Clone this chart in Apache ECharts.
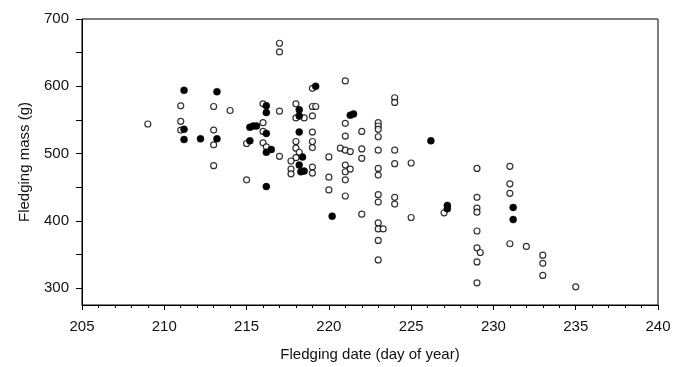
<!DOCTYPE html>
<html>
<head>
<meta charset="utf-8">
<script src="https://cdn.jsdelivr.net/npm/echarts@6/dist/echarts.min.js"></script>
<style>
  html, body { margin: 0; padding: 0; background: #fff; }
  #chart { width: 679px; height: 367px; }
</style>
</head>
<body>
<div id="chart"></div>
<script>
// [day of year, mass g] - open circles
const openBirds = [
  [211.0, 571], [213.0, 570], [214.0, 564], [209.0, 544], [211.0, 548], [211.0, 535], [213.0, 535], [213.0, 513], [213.0, 482],
  [217.0, 664], [217.0, 651], [221.0, 608], [219.0, 597], [216.0, 574], [218.0, 574], [219.0, 570], [219.2, 570], [217.0, 563],
  [218.0, 553], [218.5, 553], [219.0, 556], [216.0, 546], [216.0, 533], [219.0, 532], [221.0, 545], [221.0, 526],
  [215.0, 515], [216.0, 516], [216.2, 510], [218.0, 518], [218.0, 508], [219.0, 518], [219.0, 509], [217.0, 496], [218.2, 502],
  [218.0, 494], [217.7, 489], [217.7, 477], [217.7, 470], [219.0, 480], [219.0, 471], [220.0, 495], [220.7, 508], [221.0, 505],
  [221.0, 483], [221.0, 473], [215.0, 461], [220.0, 465], [220.0, 446], [221.0, 461], [221.0, 437],
  [224.0, 583], [224.0, 576], [223.0, 546], [223.0, 541], [223.0, 536], [223.0, 525], [222.0, 533], [221.3, 503], [222.0, 507],
  [223.0, 505], [224.0, 505], [222.0, 493], [225.0, 486], [224.0, 485], [221.3, 477], [223.0, 478], [223.0, 468],
  [222.0, 410], [223.0, 439], [223.0, 428], [224.0, 435], [224.0, 425], [225.0, 405], [223.0, 397], [223.0, 388], [223.3, 388],
  [223.0, 371], [223.0, 342], [227.0, 412],
  [229.0, 478], [231.0, 481], [231.0, 455], [231.0, 441], [229.0, 435], [229.0, 419], [229.0, 413], [229.0, 385], [229.0, 360],
  [229.2, 353], [229.0, 339], [231.0, 366], [232.0, 362], [233.0, 349], [233.0, 337], [233.0, 319], [229.0, 308], [235.0, 302]
];

// [day of year, mass g] - filled circles
const filledBirds = [
  [211.2, 594], [213.2, 592], [211.2, 536], [211.2, 521], [212.2, 522], [213.2, 522], [219.2, 600], [216.2, 571], [218.2, 565],
  [216.2, 561], [218.2, 556], [221.3, 557], [221.5, 559], [215.2, 539], [215.4, 541], [215.6, 541], [216.2, 530], [218.2, 532],
  [215.2, 519], [216.2, 502], [216.5, 506], [218.4, 495], [218.2, 483], [218.3, 473], [218.5, 474], [216.2, 451], [220.2, 407],
  [226.2, 519], [227.2, 423], [227.2, 418], [231.2, 420], [231.2, 402]
];

const massLabels = [300, 400, 500, 600, 700];
const massTicks = [300, 350, 400, 450, 500, 550, 600, 650, 700];

const font = 'Liberation Sans, Arial, sans-serif';
const ink = '#000';
const textInk = '#111';

const myChart = echarts.init(document.getElementById('chart'), null, { renderer: 'canvas' });

const option = {
  animation: false,
  grid: {
    left: 82,
    right: 21,
    top: 19,
    bottom: 61,
    show: true,
    borderColor: ink,
    borderWidth: 1
  },
  xAxis: {
    type: 'value',
    min: 205,
    max: 240,
    interval: 5,
    name: 'Fledging date (day of year)',
    nameLocation: 'middle',
    nameGap: 42,
    nameTextStyle: { color: textInk, fontSize: 15, fontFamily: font },
    axisLine: { lineStyle: { color: ink, width: 1 } },
    axisTick: { show: true, inside: false, length: 5, lineStyle: { color: ink } },
    minorTick: { show: true, splitNumber: 5, length: 3, lineStyle: { color: ink } },
    splitLine: { show: false },
    axisLabel: { color: textInk, fontSize: 15, fontFamily: font, margin: 14 }
  },
  yAxis: {
    type: 'value',
    min: 275,
    max: 700,
    name: 'Fledging mass (g)',
    nameLocation: 'middle',
    nameGap: 50,
    nameTextStyle: { color: textInk, fontSize: 15, fontFamily: font },
    axisLine: { show: true, lineStyle: { color: ink, width: 1 } },
    axisTick: { show: true, inside: false, length: 6, customValues: massTicks, lineStyle: { color: ink } },
    splitLine: { show: false },
    axisLabel: { color: textInk, fontSize: 15, fontFamily: font, margin: 13, customValues: massLabels }
  },
  series: [
    {
      name: 'open',
      type: 'scatter',
      data: openBirds,
      symbol: 'circle',
      symbolSize: 6,
      itemStyle: { color: '#fff', borderColor: ink, borderWidth: 1.2 }
    },
    {
      name: 'filled',
      type: 'scatter',
      data: filledBirds,
      symbol: 'circle',
      symbolSize: 7,
      itemStyle: { color: '#000', borderColor: '#000', borderWidth: 0.5, opacity: 1 }
    }
  ]
};

myChart.setOption(option);
</script>
</body>
</html>
